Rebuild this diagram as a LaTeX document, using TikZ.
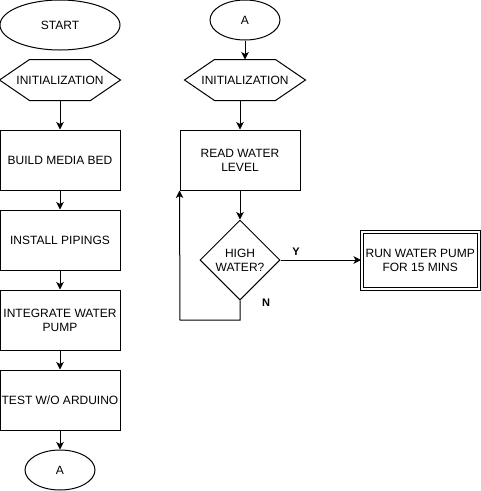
\documentclass[tikz,border=0pt]{standalone}
\usepackage{fontspec}
\setmainfont{Liberation Sans}
\usetikzlibrary{shapes.geometric,arrows.meta}

\begin{document}
\begin{tikzpicture}[x=1pt, y=-1pt, line width=1pt,
		every node/.style={font=\fontsize{12}{14}\selectfont, align=center, inner sep=0pt},
		terminal/.style={draw, ellipse},
		prep/.style={minimum width=120pt, minimum height=40pt},
		process/.style={draw, rectangle, minimum width=120pt, minimum height=60pt},
		decision/.style={draw, diamond, minimum width=80pt, minimum height=80pt},
		branch/.style={font=\fontsize{11}{13}\selectfont\bfseries},
		flow/.style={-{Stealth[length=7.5pt, width=7.5pt, inset=2pt]}}]
		\useasboundingbox (0,0) rectangle (481,491);
		
		\node (start) at (60,25) [terminal, minimum width=120pt, minimum height=50pt] {START};
		\node (initL) at (60,80) [prep] {INITIALIZATION};
		\node (media) at (60,160) [process] {BUILD MEDIA BED};
		\node (pipes) at (60,240) [process] {INSTALL PIPINGS};
		\node (pump) at (60,320) [process] {INTEGRATE WATER\\PUMP};
		\node (test) at (60,400) [process] {TEST W/O ARDUINO};
		\node (connL) at (60,470) [terminal, minimum width=70pt, minimum height=40pt] {A};
		
		\draw [flow] (initL) -- (media);
		\draw [flow] (media) -- (pipes);
		\draw [flow] (pipes) -- (pump);
		\draw [flow] (pump) -- (test);
		\draw [flow] (test) -- (connL);
		
		\node (connR) at (245,20) [terminal, minimum width=70pt, minimum height=40pt] {A};
		\node (initR) at (245,80) [prep] {INITIALIZATION};
		\node (read) at (240,160) [process] {READ WATER\\LEVEL};
		\node (high) at (240,260) [decision] {HIGH\\WATER?};
		\node (run) at (420.25,260) [process, double, double distance=2pt, minimum width=117.5pt, minimum height=57pt] {RUN WATER PUMP\\FOR 15 MINS};
		\node (yes) at (296,252) [branch] {Y};
		\node (no) at (266,303) [branch] {N};
		\coordinate (loop) at (180,320);
		
		\foreach \h in {initL, initR}
		\draw (\h.west) -- ([xshift=30pt]\h.north west) -- ([xshift=-30pt]\h.north east) -- (\h.east) -- ([xshift=-30pt]\h.south east) -- ([xshift=30pt]\h.south west) -- cycle;
		
		\draw [flow] (connR) -- (initR);
		\draw [flow] (read.north |- initR.south) -- (read);
		\draw [flow] (read) -- (high);
		\draw [flow] (high) -- (run);
		\draw [flow] (high.south) |- (loop) -- (read.south west);
\end{tikzpicture}
\end{document}
